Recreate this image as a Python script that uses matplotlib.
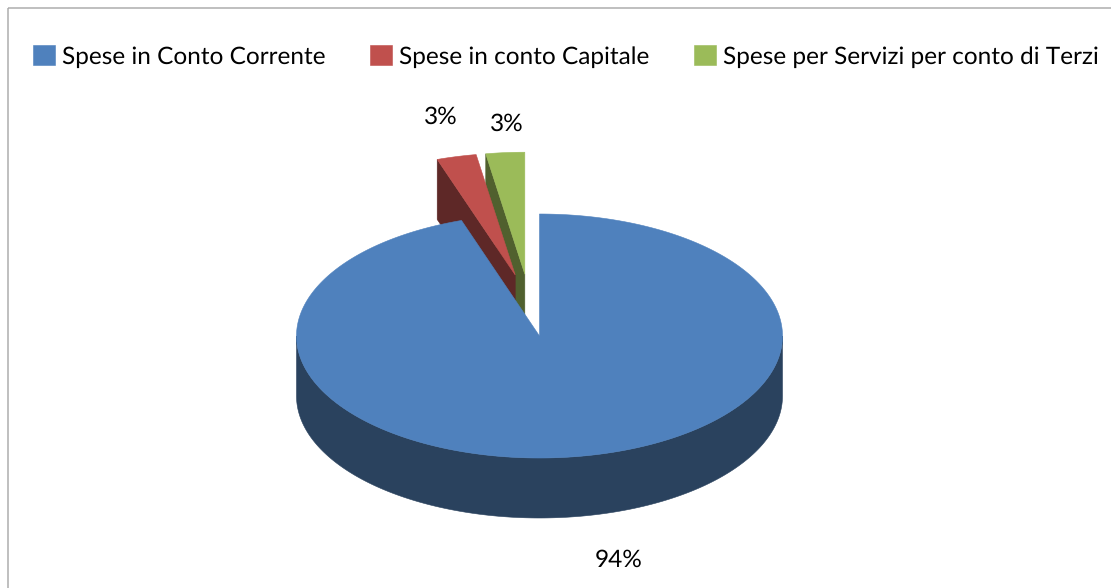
import numpy as np
import matplotlib
matplotlib.use("Agg")
import matplotlib.pyplot as plt
from matplotlib.patches import Patch, Polygon, Rectangle

plt.rcParams['font.family'] = ['Lato', 'DejaVu Sans']
plt.rcParams['text.hinting'] = 'no_hinting'

categories = ["Spese in Conto Corrente", "Spese in conto Capitale",
              "Spese per Servizi per conto di Terzi"]
values = [94, 3, 3]

top_colors = ["#4F81BD", "#C0504D", "#9BBB59"]
side_colors = ["#2A425E", "#5E2827", "#50602E"]

# Pie geometry in figure pixels
CX, CY = 539.5, 336.0
RX, RY = 243.0, 122.0
DEPTH = 60.0
TILT = np.radians(4.2)          # angular foreshortening of the tilted disc
EXPLODE = [(0.0, 0.0), (0.51, 11.3), (0.51, 6.8)]   # distance, direction in degrees
LABEL_POS = [(619, 560), (441, 117), (507, 124)]
FONT_SIZE = 17.6


def rim(theta, dx=0.0, dy=0.0):
    """Screen position of a rim point; theta runs clockwise from twelve o'clock."""
    phi = theta - TILT * np.sin(2 * theta)
    return CX + dx + RX * np.sin(phi), CY + dy - RY * np.cos(phi)


fig = plt.figure(figsize=(11.11, 5.88), dpi=100, facecolor="white")
ax = fig.add_axes([0, 0, 1, 1])
ax.set_xlim(0, 1111)
ax.set_ylim(588, 0)
ax.axis("off")

# Chart area frame, running off the right and bottom edges
ax.add_patch(Rectangle((8, 8), 1200, 700, fill=False, edgecolor="#ADADAD",
                       linewidth=1.1, zorder=1))

# Slice boundaries, clockwise from the top
fractions = np.array(values) / np.sum(values)
ends = np.cumsum(fractions) * 2 * np.pi
starts = ends - fractions * 2 * np.pi

# Small slices first, so the large one overlaps their walls
for i in [2, 1]:
    dist, direction = EXPLODE[i]
    d = np.radians(direction)
    dx, dy = -RX * dist * np.sin(d), -RY * dist * np.cos(d)
    apex = (CX + dx, CY + dy)
    th = np.linspace(starts[i], ends[i], 30)
    xs, ys = rim(th, dx, dy)
    # Wall along the leading radial edge
    wall = [(xs[0], ys[0]), apex, (apex[0], apex[1] + DEPTH), (xs[0], ys[0] + DEPTH)]
    ax.add_patch(Polygon(wall, closed=True, facecolor=side_colors[i],
                         edgecolor=side_colors[i], linewidth=0.4, zorder=2 + (2 - i) * 2))
    top = [apex] + list(zip(xs, ys))
    ax.add_patch(Polygon(top, closed=True, facecolor=top_colors[i],
                         edgecolor=top_colors[i], linewidth=0.4, zorder=3 + (2 - i) * 2))

# Large slice: visible outer wall, then its top face
th_front = np.linspace(np.pi / 2, 3 * np.pi / 2, 200)
fx, fy = rim(th_front)
wall = list(zip(fx, fy)) + list(zip(fx[::-1], fy[::-1] + DEPTH))
ax.add_patch(Polygon(wall, closed=True, facecolor=side_colors[0],
                     edgecolor=side_colors[0], linewidth=0.4, zorder=8))
th_top = np.linspace(starts[0], ends[0], 400)
tx, ty = rim(th_top)
ax.add_patch(Polygon([(CX, CY)] + list(zip(tx, ty)), closed=True, facecolor=top_colors[0],
                     edgecolor=top_colors[0], linewidth=0.4, zorder=9))

# Percentage labels
for v, (lx, ly) in zip(values, LABEL_POS):
    ax.text(lx, ly, f"{v}%", ha="center", va="center", fontsize=FONT_SIZE,
            color="black", zorder=10)

# Legend across the top
handles = [Patch(facecolor=c, edgecolor=c, linewidth=0.4) for c in top_colors]
ax.legend(handles, categories, ncol=3, loc="upper left",
          bbox_to_anchor=(33 / 1111, 1 - 45 / 588), bbox_transform=ax.transAxes,
          frameon=False, fontsize=FONT_SIZE, borderaxespad=0, borderpad=0,
          handlelength=0.9, handleheight=0.9, handletextpad=0.3,
          columnspacing=1.8, labelspacing=0)

fig.savefig("out.png", dpi=100, facecolor="white")
